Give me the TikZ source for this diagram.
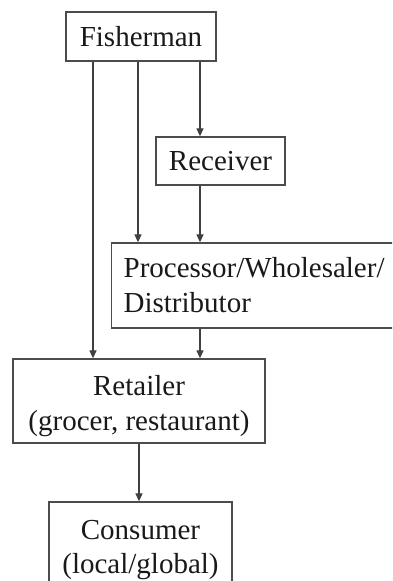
\documentclass[tikz,border=0pt]{standalone}
\usepackage{fontspec}
\setmainfont{Liberation Serif}
\usetikzlibrary{positioning,arrows.meta}

\begin{document}
\begin{tikzpicture}[x=1pt,y=1pt,
				box/.style={draw=black!70, line width=1.3pt, text=black!90, inner sep=0pt,
					align=center, font=\fontsize{29}{35}\selectfont},
				twoline/.style={text height=65pt, text depth=5pt},
				flow/.style={draw=black!75, line width=1.3pt, -{Triangle[width=7pt,length=8pt]}}
			]
			\useasboundingbox (0,0) rectangle (392,581);
			\clip (0,0) rectangle (392,581);
			
			\node[box, minimum width=150pt, minimum height=49pt] (fisher) at (141,544.5) {Fisherman};
			\node[box, minimum width=129pt, minimum height=48pt] (recv) at (220.5,420) {Receiver};
			\node[box, anchor=west, align=left, text width=266pt, inner xsep=12pt, minimum height=85pt] (proc) at (111,295.5) {Processor/Wholesaler/\\Distributor};
			\node[box, twoline, minimum width=252pt, minimum height=84pt] (ret) at (139,180) {Retailer\\(grocer, restaurant)};
			\node[box, twoline, minimum width=183pt, minimum height=84pt] (cons) at (140.5,37) {Consumer\\(local/global)};
			
			\draw[flow] ([xshift=-48pt]fisher.south) -- ([xshift=-48pt]fisher.south |- ret.north);
			\draw[flow] ([xshift=-3pt]fisher.south) -- ([xshift=-3pt]fisher.south |- proc.north);
			\draw[flow] ([xshift=59pt]fisher.south) -- ([xshift=59pt]fisher.south |- recv.north);
			\draw[flow] ([xshift=-20.5pt]recv.south) -- ([xshift=-20.5pt]recv.south |- proc.north);
			\draw[flow] ([xshift=61pt]ret.north |- proc.south) -- ([xshift=61pt]ret.north);
			\draw[flow] (ret.south) -- (ret.south |- cons.north);
		\end{tikzpicture}
\end{document}
